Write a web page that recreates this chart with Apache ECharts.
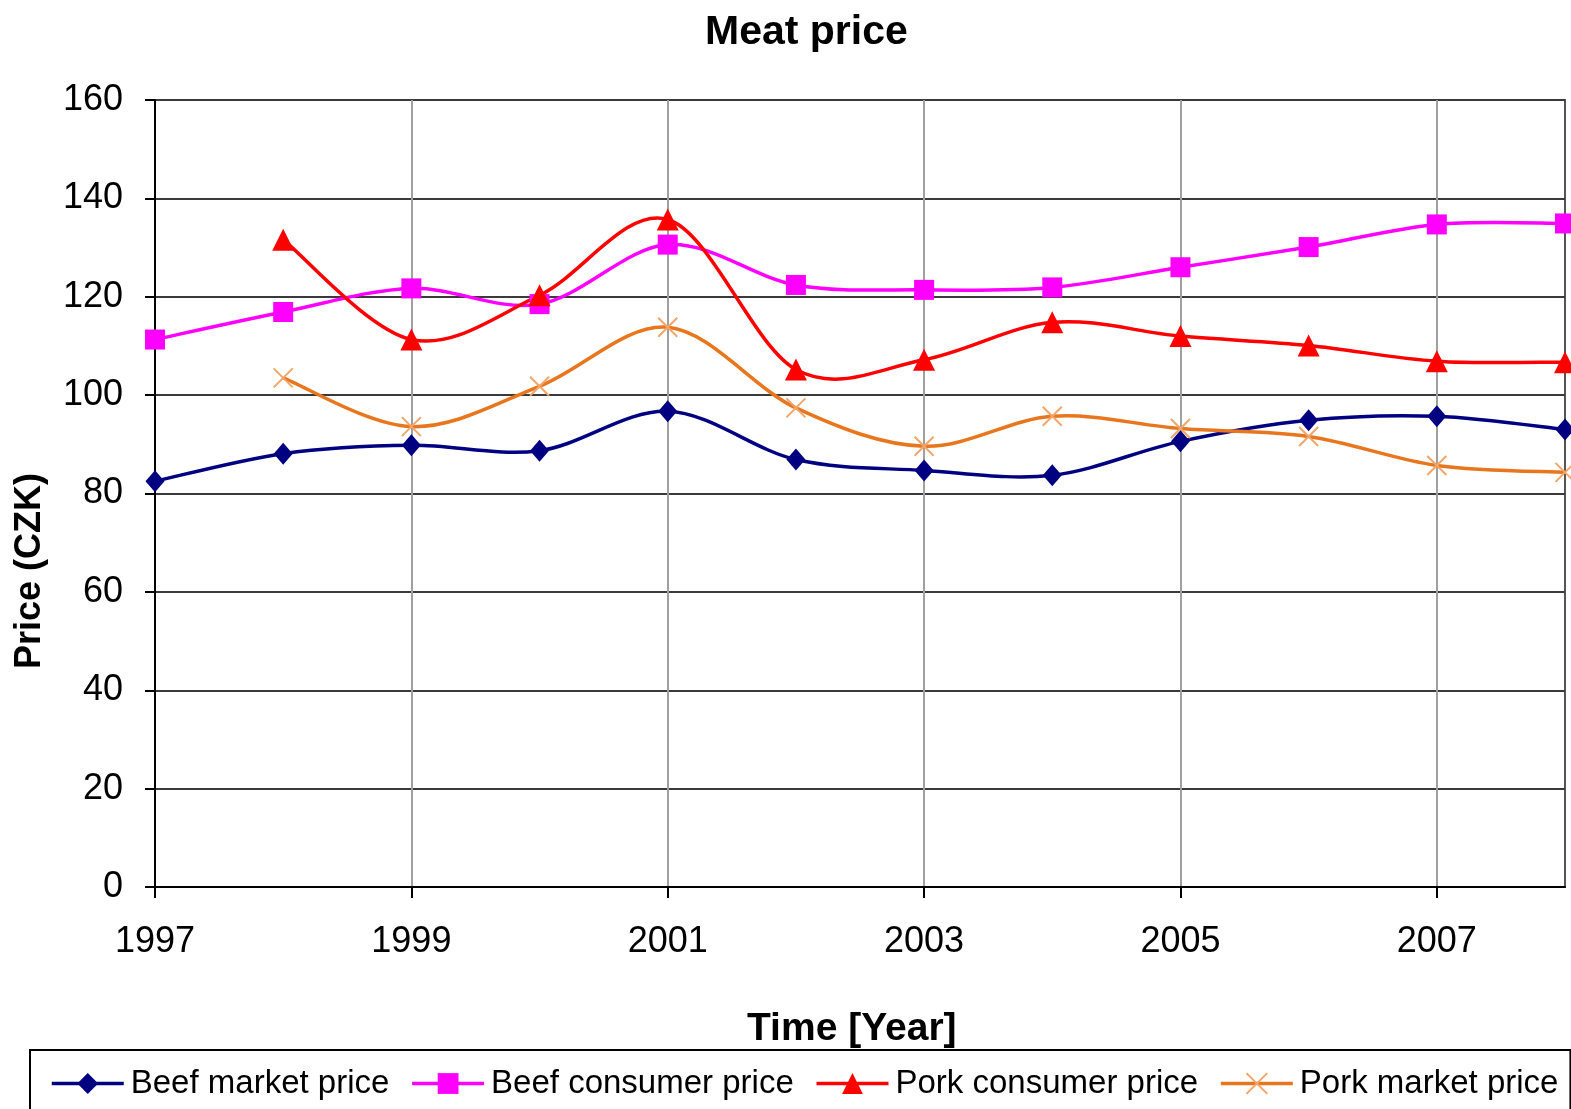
<!DOCTYPE html>
<html>
<head>
<meta charset="utf-8">
<title>Meat price</title>
<script src="https://cdn.jsdelivr.net/npm/echarts@6/dist/echarts.min.js"></script>
<style>
  html, body { margin: 0; padding: 0; background: #fff; }
  #chart { width: 1571px; height: 1109px; }
</style>
</head>
<body>
<div id="chart"></div>
<script>
// Yearly meat prices in CZK
const years = ['1997', '1998', '1999', '2000', '2001', '2002', '2003', '2004', '2005', '2006', '2007', '2008'];
const beefMarket   = [82.5, 88.1, 89.8, 88.7, 96.7, 86.9, 84.7, 83.7, 90.6, 94.9, 95.7, 93.0];
const beefConsumer = [111.3, 116.9, 121.7, 118.5, 130.6, 122.4, 121.4, 121.9, 126.0, 130.1, 134.7, 134.9];
const porkConsumer = [null, 131.6, 111.3, 120.3, 135.7, 105.2, 107.2, 114.8, 112.0, 110.1, 106.9, 106.7];
const porkMarket   = [null, 103.5, 93.6, 101.8, 113.8, 97.4, 89.6, 95.7, 93.2, 91.6, 85.7, 84.3];
const yTicks = { min: 0, max: 160, step: 20 };

const FONT = '"Liberation Sans", Arial, Helvetica, sans-serif';
const LINE_W = 3.5;

// Marker series: the points themselves (the connecting curve is drawn separately)
function markerSeries(name, data, color, symbol, size, itemStyle) {
  return {
    name: name,
    type: 'line',
    data: data,
    z: 3,
    symbol: symbol,
    symbolSize: size,
    showSymbol: true,
    lineStyle: { color: color, width: 0, opacity: 0 },
    itemStyle: Object.assign({ color: color, borderWidth: 0 }, itemStyle || {}),
    emphasis: { disabled: true }
  };
}

// Smoothed connecting curve: cubic Bezier per segment with
// Catmull-Rom style control points (1/6 of the neighbour chord).
function curveSeries(data, color) {
  return {
    type: 'custom',
    z: 2,
    silent: true,
    data: data.map(function (v, i) { return [i, v]; }),
    encode: { x: 0, y: 1 },
    renderItem: function (params, api) {
      const i = params.dataIndex;
      if (i + 1 >= data.length || data[i] == null || data[i + 1] == null) return null;
      const pt = function (j) { return api.coord([j, data[j]]); };
      const p1 = pt(i), p2 = pt(i + 1);
      const p0 = (i - 1 >= 0 && data[i - 1] != null) ? pt(i - 1) : p1;
      const p3 = (i + 2 < data.length && data[i + 2] != null) ? pt(i + 2) : p2;
      return {
        type: 'bezierCurve',
        shape: {
          x1: p1[0], y1: p1[1],
          x2: p2[0], y2: p2[1],
          cpx1: p1[0] + (p2[0] - p0[0]) / 6,
          cpy1: p1[1] + (p2[1] - p0[1]) / 6,
          cpx2: p2[0] - (p3[0] - p1[0]) / 6,
          cpy2: p2[1] - (p3[1] - p1[1]) / 6
        },
        style: { stroke: color, lineWidth: LINE_W, fill: null }
      };
    }
  };
}

const chart = echarts.init(document.getElementById('chart'), null, { renderer: 'canvas' });

chart.setOption({
  animation: false,
  backgroundColor: '#ffffff',
  title: [
    {
      text: 'Meat price',
      left: 705, top: 12, padding: 0,
      textStyle: { fontFamily: FONT, fontSize: 41, fontWeight: 'bold', color: '#000' }
    },
    {
      text: 'Time [Year]',
      left: 747, top: 1010, padding: 0,
      textStyle: { fontFamily: FONT, fontSize: 39, fontWeight: 'bold', color: '#000' }
    }
  ],
  graphic: [
    {
      type: 'text',
      x: 30, y: 571,
      rotation: Math.PI / 2,
      style: {
        text: 'Price (CZK)',
        font: 'bold 36px ' + FONT,
        fill: '#000',
        textAlign: 'center',
        textVerticalAlign: 'middle'
      }
    }
  ],
  grid: {
    left: 155, right: 6, top: 100, bottom: 222,
    show: true,
    borderColor: '#555555',
    borderWidth: 2,
    backgroundColor: 'transparent'
  },
  legend: {
    left: 30, top: 1050,
    padding: [17, 12, 40, 20],
    itemWidth: 72, itemHeight: 26, itemGap: 21,
    borderColor: '#000', borderWidth: 2,
    backgroundColor: '#fff',
    lineStyle: { width: 3.5, opacity: 1 },
    textStyle: { fontFamily: FONT, fontSize: 33, color: '#000', padding: [0, 0, 0, 2] },
    data: ['Beef market price', 'Beef consumer price', 'Pork consumer price', 'Pork market price']
  },
  xAxis: {
    type: 'category',
    data: years,
    boundaryGap: false,
    axisLine: { show: true, lineStyle: { color: '#000', width: 2 } },
    axisTick: { show: true, interval: 1, length: 11, inside: false, lineStyle: { color: '#000', width: 2 } },
    axisLabel: { interval: 1, margin: 37, fontFamily: FONT, fontSize: 36, color: '#000' },
    splitLine: { show: true, interval: 1, lineStyle: { color: '#a0a0a0', width: 2 } }
  },
  yAxis: {
    type: 'value',
    min: yTicks.min, max: yTicks.max, interval: yTicks.step,
    axisLine: { show: true, lineStyle: { color: '#000', width: 2 } },
    axisTick: { show: true, length: 10, inside: false, lineStyle: { color: '#000', width: 2 } },
    axisLabel: { margin: 32, fontFamily: FONT, fontSize: 36, color: '#000' },
    splitLine: { show: true, lineStyle: { color: '#3a3a3a', width: 2 } }
  },
  series: [
    markerSeries('Beef market price', beefMarket, '#000080', 'diamond', [19, 22]),
    markerSeries('Beef consumer price', beefConsumer, '#ff00ff', 'rect', 20),
    markerSeries('Pork consumer price', porkConsumer, '#ff0000', 'triangle', 22),
    markerSeries('Pork market price', porkMarket, '#e8761e', 'path://M0,0L10,10M10,0L0,10', 19,
      { color: '#e8761e', borderColor: '#f2a66a', borderWidth: 2 }),
    curveSeries(beefMarket, '#000080'),
    curveSeries(beefConsumer, '#ff00ff'),
    curveSeries(porkConsumer, '#ff0000'),
    curveSeries(porkMarket, '#e8761e')
  ]
});
</script>
</body>
</html>
